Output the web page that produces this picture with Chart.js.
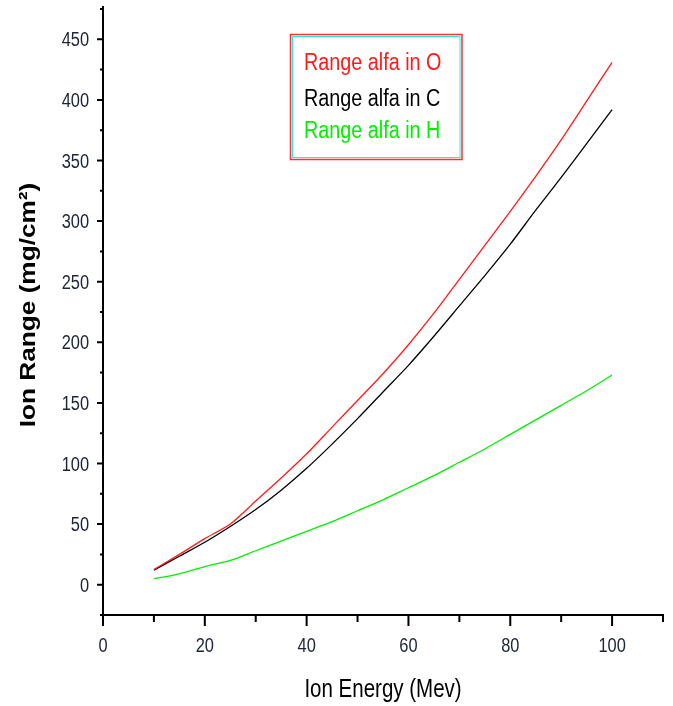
<!DOCTYPE html>
<html>
<head>
<meta charset="utf-8">
<script src="https://cdn.jsdelivr.net/npm/chart.js@4.4.0/dist/chart.umd.min.js"></script>
<style>
    html, body { margin: 0; padding: 0; background: #fff; }
    #wrap { width: 673px; height: 706px; }
</style>
</head>
<body>
<div id="wrap"><canvas id="rangeChart" width="673" height="706"></canvas></div>
<script>
    // Ion energy (MeV) and range values (mg/cm2)
    const energies = [10, 15, 20, 25, 30, 35, 40, 45, 50, 55, 60, 65, 70, 75, 80, 85, 90, 95, 100];
    const rangeO = [12.5, 25, 38, 50, 69, 88, 108, 130, 152, 174, 198, 224, 252, 280, 308, 337, 367, 399, 431];
    const rangeC = [12, 23.5, 35, 48, 62, 78, 96, 116, 137, 159, 181, 205, 230, 255, 281, 309, 336, 364, 392];
    const rangeH = [5, 9, 15, 20, 28, 36, 44, 52, 61, 70, 80, 90, 101, 112, 124, 136, 148, 160, 173];

    const seriesLabels = ['Range alfa in O', 'Range alfa in C', 'Range alfa in H'];

    // Axis ticks
    const xTicks = [0, 20, 40, 60, 80, 100];
    const xMinorTicks = [10, 30, 50, 70, 90, 110];
    const yTicks = [0, 50, 100, 150, 200, 250, 300, 350, 400, 450];
    const yMinorTicks = [-25, 25, 75, 125, 175, 225, 275, 325, 375, 425, 475];

    const xTitle = 'Ion Energy (Mev)';
    const yTitle = 'Ion Range (mg/cm²)';

    const fontFamily = "'Liberation Sans', Arial, sans-serif";
    const labelColor = '#1c2436';

    function toPoints(values) {
        return energies.map((e, i) => ({ x: e, y: values[i] }));
    }

    // The original picture is stretched vertically, so text is drawn squeezed
    function narrowText(ctx, text, x, y, font, sx, align) {
        ctx.save();
        ctx.translate(x, y);
        ctx.scale(sx, 1);
        ctx.font = font;
        ctx.textAlign = align;
        ctx.fillText(text, 0, 0);
        ctx.restore();
    }

    // Tick marks, tick labels and axis titles
    const axisDecor = {
        id: 'axisDecor',
        afterDraw(chart) {
            const ctx = chart.ctx;
            const xs = chart.scales.x;
            const ys = chart.scales.y;
            const area = chart.chartArea;
            ctx.save();
            ctx.strokeStyle = '#000';
            ctx.lineWidth = 2;
            ctx.beginPath();
            // y axis line runs a little past the top value, as in the original
            ctx.moveTo(area.left, area.top);
            ctx.lineTo(area.left, area.top - 3);
            xTicks.forEach(v => {
                const px = xs.getPixelForValue(v);
                ctx.moveTo(px, area.bottom);
                ctx.lineTo(px, area.bottom + 11);
            });
            xMinorTicks.forEach(v => {
                const px = xs.getPixelForValue(v);
                ctx.moveTo(px, area.bottom);
                ctx.lineTo(px, area.bottom + 7);
            });
            yTicks.forEach(v => {
                const py = ys.getPixelForValue(v);
                ctx.moveTo(area.left, py);
                ctx.lineTo(area.left - 6, py);
            });
            yMinorTicks.forEach(v => {
                const py = ys.getPixelForValue(v);
                ctx.moveTo(area.left, py);
                ctx.lineTo(area.left - 3, py);
            });
            ctx.stroke();

            ctx.fillStyle = labelColor;
            ctx.textBaseline = 'alphabetic';
            xTicks.forEach(v => {
                narrowText(ctx, String(v), xs.getPixelForValue(v), area.bottom + 37, '20px ' + fontFamily, 0.82, 'center');
            });
            yTicks.forEach(v => {
                narrowText(ctx, String(v), area.left - 14, ys.getPixelForValue(v) + 7, '20px ' + fontFamily, 0.82, 'right');
            });

            ctx.fillStyle = '#000';
            narrowText(ctx, xTitle, (area.left + area.right) / 2, 696.5, '25px ' + fontFamily, 0.82, 'center');

            ctx.save();
            ctx.translate(34.5, 305);
            ctx.rotate(-Math.PI / 2);
            ctx.scale(1.19, 1);
            ctx.font = 'bold 22px ' + fontFamily;
            ctx.textAlign = 'center';
            ctx.fillText(yTitle, 0, 0);
            ctx.restore();
            ctx.restore();
        }
    };

    // Boxed legend inside the plot area, like the original
    const boxLegend = {
        id: 'boxLegend',
        afterDraw(chart) {
            const ctx = chart.ctx;
            ctx.save();
            ctx.lineWidth = 1.5;
            ctx.strokeStyle = '#ff3030';
            ctx.strokeRect(290.5, 34.5, 171.5, 125);
            ctx.lineWidth = 1;
            ctx.strokeStyle = '#30e8e8';
            ctx.strokeRect(292.5, 36.5, 167.5, 121);
            ctx.textBaseline = 'alphabetic';
            const rows = [70, 106, 138];
            chart.data.datasets.forEach((ds, i) => {
                ctx.fillStyle = ds.borderColor;
                narrowText(ctx, ds.label, 304, rows[i], '23px ' + fontFamily, 0.86, 'left');
            });
            ctx.restore();
        }
    };

    new Chart(document.getElementById('rangeChart'), {
        type: 'line',
        data: {
            datasets: [
                { label: seriesLabels[0], data: toPoints(rangeO), borderColor: '#ff1a1a' },
                { label: seriesLabels[1], data: toPoints(rangeC), borderColor: '#000000' },
                { label: seriesLabels[2], data: toPoints(rangeH), borderColor: '#00f000' }
            ]
        },
        options: {
            responsive: false,
            animation: false,
            devicePixelRatio: 1,
            layout: { padding: { top: 9, right: 10, left: 0, bottom: 0 } },
            elements: {
                line: { borderWidth: 1.3, tension: 0.25, fill: false },
                point: { radius: 0 }
            },
            plugins: {
                legend: { display: false },
                tooltip: { enabled: false }
            },
            scales: {
                x: {
                    type: 'linear',
                    min: 0,
                    max: 110,
                    afterBuildTicks: s => { s.ticks = xTicks.map(v => ({ value: v })); },
                    afterFit: s => { s.height = 91; },
                    grid: { display: false, drawTicks: false },
                    border: { display: true, color: '#000', width: 2 },
                    ticks: { display: false }
                },
                y: {
                    type: 'linear',
                    min: -25,
                    max: 475,
                    afterBuildTicks: s => { s.ticks = yTicks.map(v => ({ value: v })); },
                    afterFit: s => { s.width = 103; },
                    grid: { display: false, drawTicks: false },
                    border: { display: true, color: '#000', width: 2 },
                    ticks: { display: false }
                }
            }
        },
        plugins: [axisDecor, boxLegend]
    });
</script>
</body>
</html>
